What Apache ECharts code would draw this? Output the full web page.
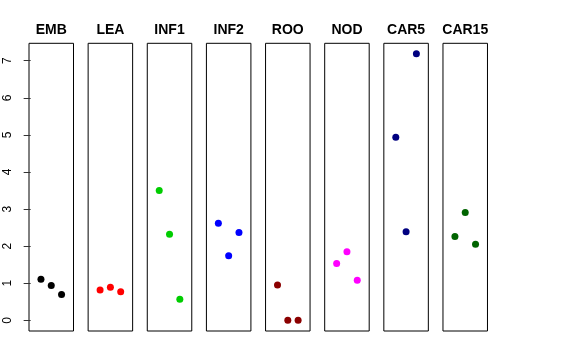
<!DOCTYPE html>
<html>
<head>
<meta charset="utf-8">
<script src="https://cdn.jsdelivr.net/npm/echarts@6/dist/echarts.min.js"></script>
<style>html,body{margin:0;padding:0;background:#fff}#c{width:576px;height:360px}</style>
</head>
<body>
<div id="c"></div>
<script>
const categories = ['EMB', 'LEA', 'INF1', 'INF2', 'ROO', 'NOD', 'CAR5', 'CAR15'];
const xPositions = [1, 2, 3];
const embValues = [1.11, 0.94, 0.70];
const leaValues = [0.82, 0.89, 0.77];
const inf1Values = [3.50, 2.32, 0.57];
const inf2Values = [2.62, 1.74, 2.37];
const rooValues = [0.95, 0.00, 0.00];
const nodValues = [1.53, 1.85, 1.08];
const car5Values = [4.94, 2.39, 7.19];
const car15Values = [2.26, 2.91, 2.05];
const seriesValues = [embValues, leaValues, inf1Values, inf2Values, rooValues, nodValues, car5Values, car15Values];
const colors = ['#000000', '#FF0000', '#00CD00', '#0000FF', '#8B0000', '#FF00FF', '#000080', '#006400'];
const yTicks = [0, 1, 2, 3, 4, 5, 6, 7];

const panelLeft0 = 29, panelStep = 59.14, panelWidth = 44.5, panelTop = 43.3, panelHeight = 287.7;
const yMin = -0.287, yMax = 7.47, xMin = -0.16, xMax = 4.16;

const grids = [], xAxes = [], yAxes = [], series = [], graphics = [];
categories.forEach((cat, i) => {
  const left = panelLeft0 + panelStep * i;
  grids.push({left: left, top: panelTop, width: panelWidth, height: panelHeight, show: true,
    borderColor: '#000', borderWidth: 1, backgroundColor: 'transparent', containLabel: false});
  xAxes.push({type: 'value', gridIndex: i, min: xMin, max: xMax, show: false});
  const y = {type: 'value', gridIndex: i, min: yMin, max: yMax, splitLine: {show: false}};
  if (i === 0) {
    Object.assign(y, {
      axisLine: {show: false},
      axisTick: {show: true, length: 7, lineStyle: {color: '#333'}, customValues: yTicks},
      axisLabel: {show: true, rotate: 90, margin: 15, fontSize: 12, color: '#000',
        fontFamily: 'Liberation Sans, Arial, sans-serif', customValues: yTicks}
    });
  } else {
    Object.assign(y, {show: false});
  }
  yAxes.push(y);
  series.push({type: 'scatter', xAxisIndex: i, yAxisIndex: i, symbolSize: 7,
    itemStyle: {color: colors[i], opacity: 1}, silent: true,
    data: xPositions.map((x, k) => [x, seriesValues[i][k]])});
  graphics.push({type: 'text', x: left + panelWidth / 2, y: 30,
    style: {text: cat, textAlign: 'center', textVerticalAlign: 'middle',
      font: 'bold 14px "Liberation Sans", Arial, sans-serif', fill: '#000'}});
});

const chart = echarts.init(document.getElementById('c'), null, {renderer: 'canvas'});
chart.setOption({
  animation: false,
  grid: grids, xAxis: xAxes, yAxis: yAxes, series: series, graphic: graphics
});
</script>
</body>
</html>
